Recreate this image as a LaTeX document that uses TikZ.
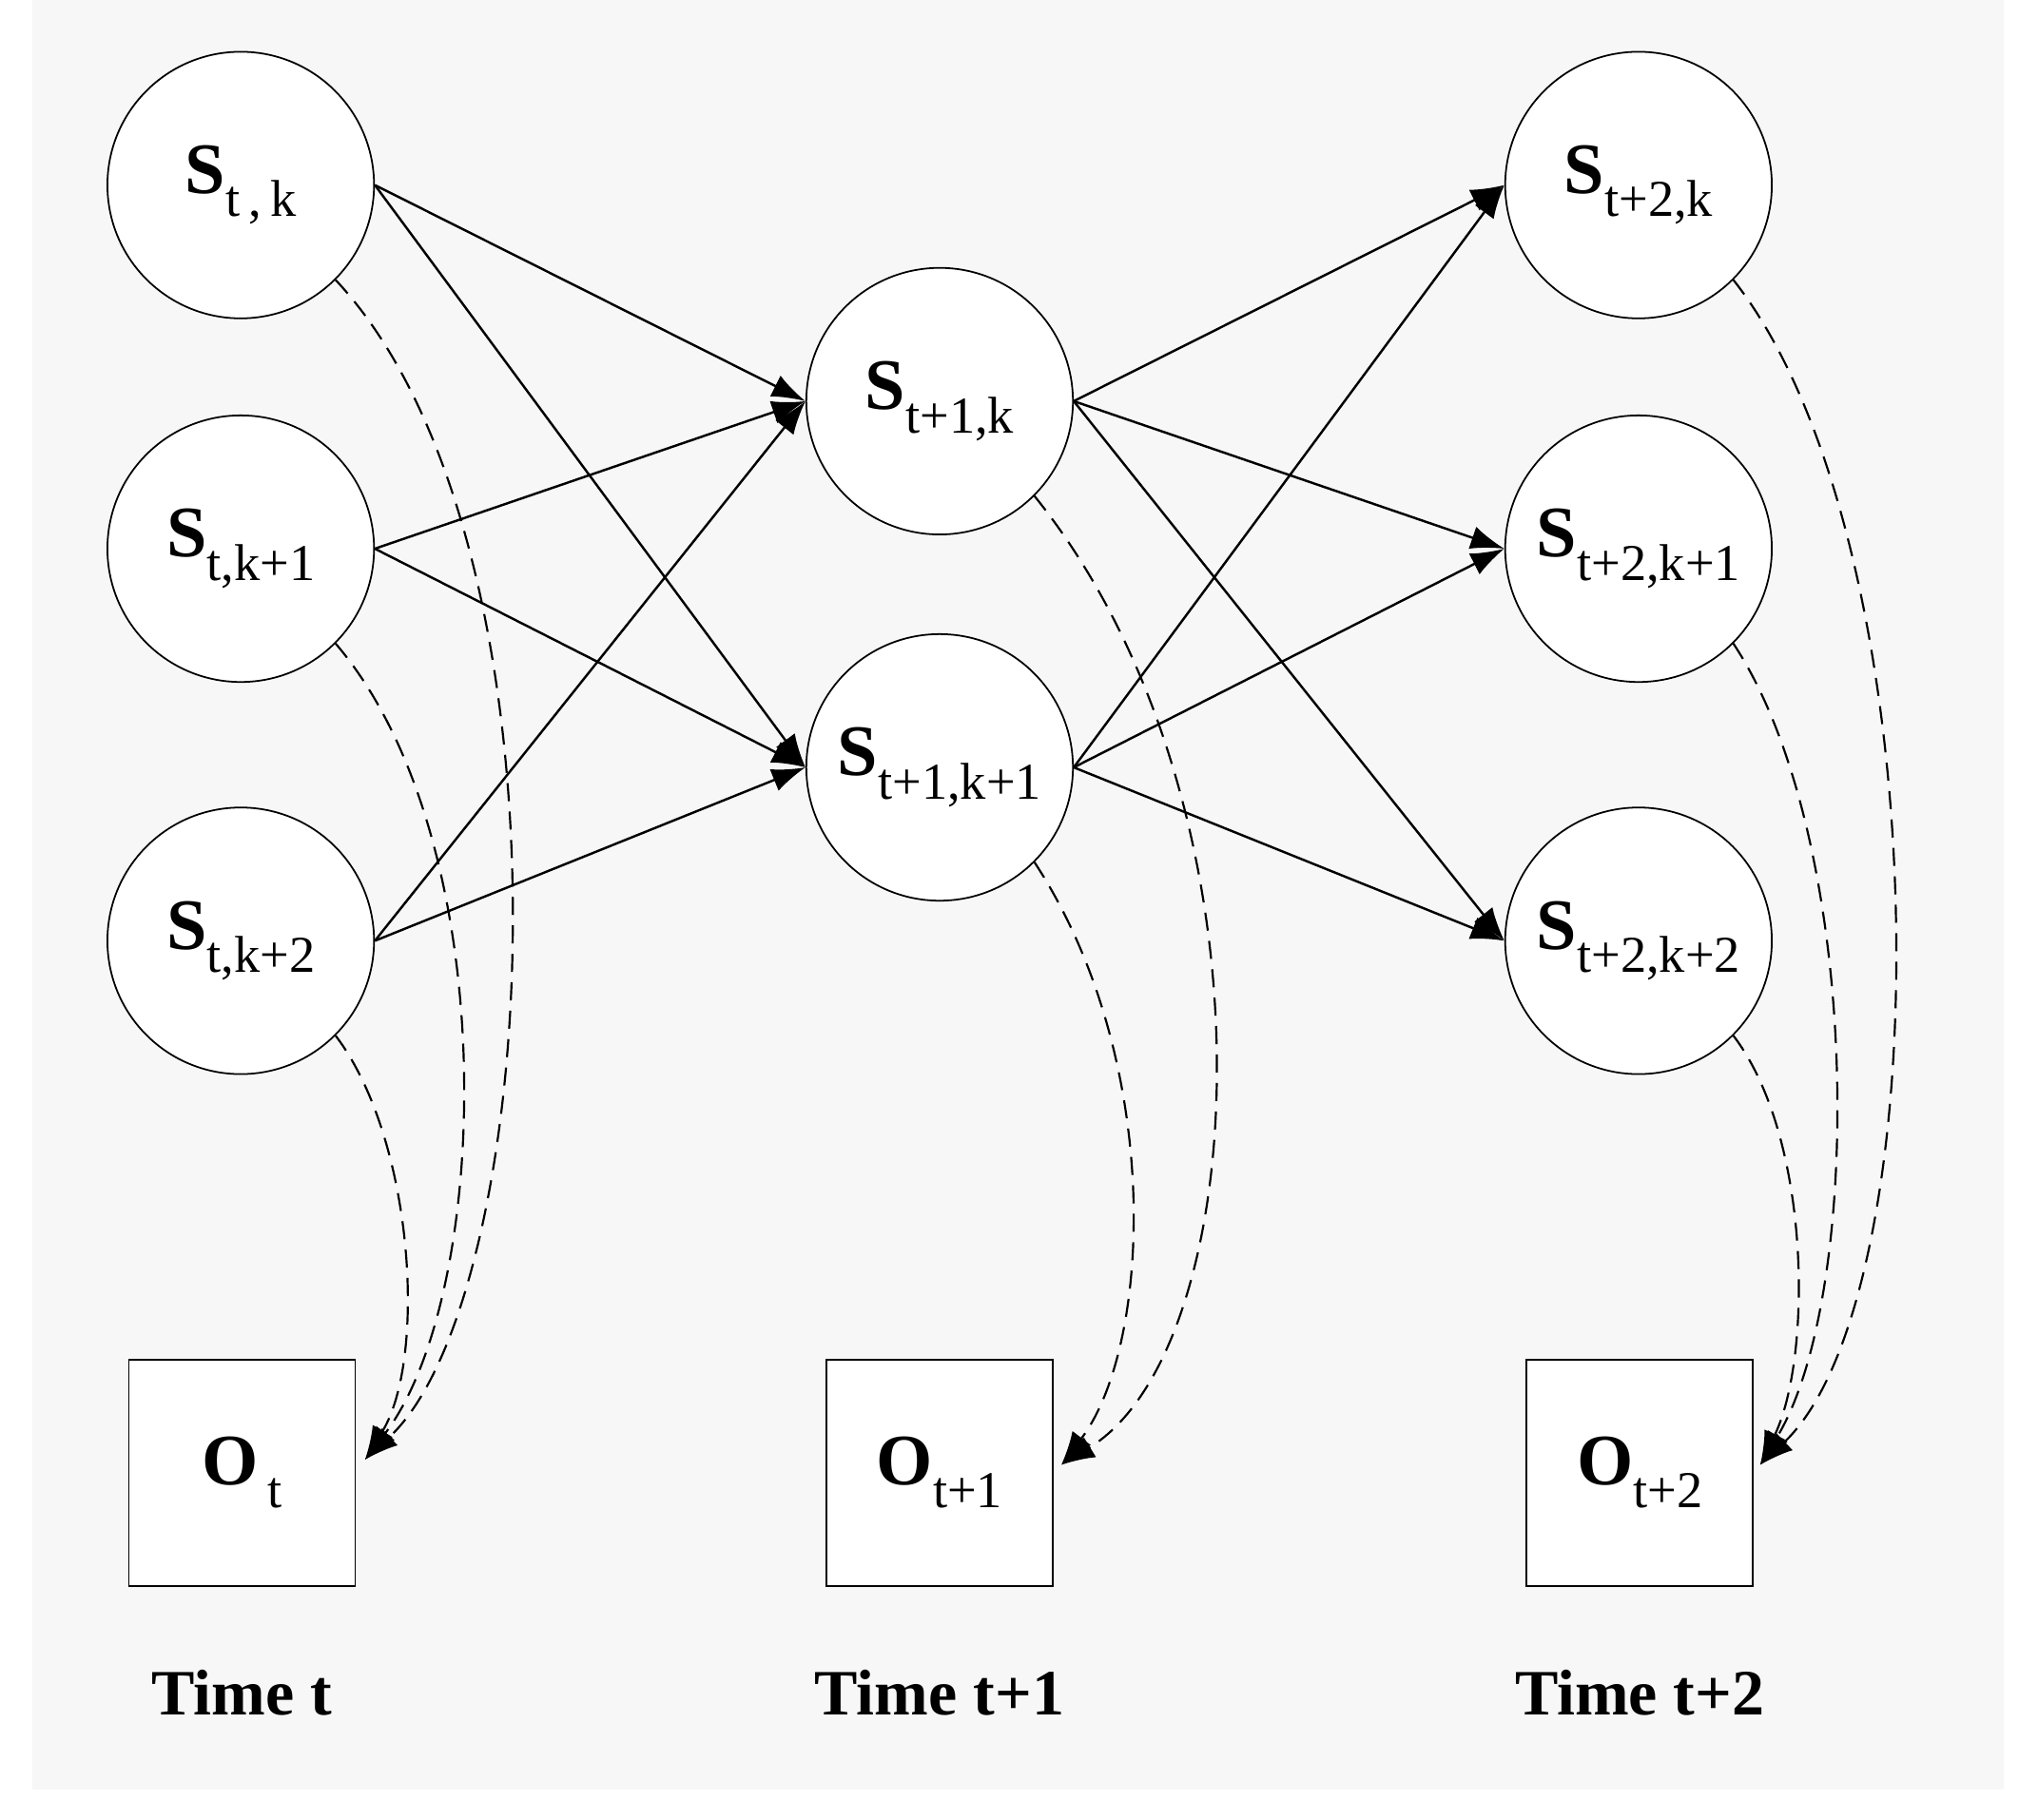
\documentclass[tikz,border=0pt]{standalone}
\usepackage{fontspec}
\setmainfont{Liberation Serif}
\usetikzlibrary{arrows.meta}
\begin{document}
\begin{tikzpicture}[x=1pt,y=-1pt,
 st/.style={circle,draw,line width=1.3pt,minimum size=206pt,inner sep=0pt,fill=white},
 ob/.style={rectangle,draw,line width=1.3pt,minimum size=175pt,inner sep=0pt,fill=white},
 lab/.style={font=\fontsize{50}{50}\selectfont\bfseries},
 ar/.style={line width=1.8pt,-{Latex[length=26pt,width=18pt]}},
 da/.style={line width=1.6pt,dash pattern=on 14pt off 8pt,-{Latex[length=26pt,width=18pt]}}]
\useasboundingbox (0,0) rectangle (1560,1406);
\fill[white] (0,0) rectangle (1560,1406);
\fill[black!3] (25,0) rectangle (1548,1383);
\def\Sx#1#2{\fontsize{56}{56}\selectfont\bfseries #1\raisebox{-18pt}{\fontsize{40}{40}\selectfont\mdseries #2}}
\node[st] (a1) at (186,143) {\Sx{S}{t\,,\,k}};
\node[st] (a2) at (186,424) {\Sx{S}{t,k+1}};
\node[st] (a3) at (186,727) {\Sx{S}{t,k+2}};
\node[st] (b1) at (726,310) {\Sx{S}{t+1,k}};
\node[st] (b2) at (726,593) {\Sx{S}{t+1,k+1}};
\node[st] (c1) at (1266,143) {\Sx{S}{t+2,k}};
\node[st] (c2) at (1266,424) {\Sx{S}{t+2,k+1}};
\node[st] (c3) at (1266,727) {\Sx{S}{t+2,k+2}};
\node[ob] (o1) at (187,1138) {\Sx{O}{\,t}};
\node[ob] (o2) at (726,1138) {\Sx{O}{t+1}};
\node[ob] (o3) at (1267,1138) {\Sx{O}{t+2}};
\node[lab] (l1) at (187,1308) {Time t};
\node[lab] (l2) at (726,1308) {Time t+1};
\node[lab] (l3) at (1267,1308) {Time t+2};
\foreach \s in {a1,a2,a3}{
  \draw[ar] (\s.east) -- (b1.west);
  \draw[ar] (\s.east) -- (b2.west);}
\foreach \t in {c1,c2,c3}{
  \draw[ar] (b1.east) -- (\t.west);
  \draw[ar] (b2.east) -- (\t.west);}
\coordinate (e1) at (282,1128);
\coordinate (e2) at (820,1132);
\coordinate (e3) at (1360,1132);
\draw[da] (a1.-45) .. controls (450,420) and (420,1000) .. (e1);
\draw[da] (a2.-45) .. controls (390,650) and (380,1000) .. (e1);
\draw[da] (a3.-45) .. controls (320,880) and (330,1050) .. (e1);
\draw[da] (b1.-45) .. controls (990,620) and (970,1040) .. (e2);
\draw[da] (b2.-45) .. controls (900,820) and (890,1040) .. (e2);
\draw[da] (c1.-45) .. controls (1500,420) and (1500,1000) .. (e3);
\draw[da] (c2.-45) .. controls (1440,650) and (1440,1000) .. (e3);
\draw[da] (c3.-45) .. controls (1400,880) and (1400,1050) .. (e3);
\end{tikzpicture}
\end{document}
